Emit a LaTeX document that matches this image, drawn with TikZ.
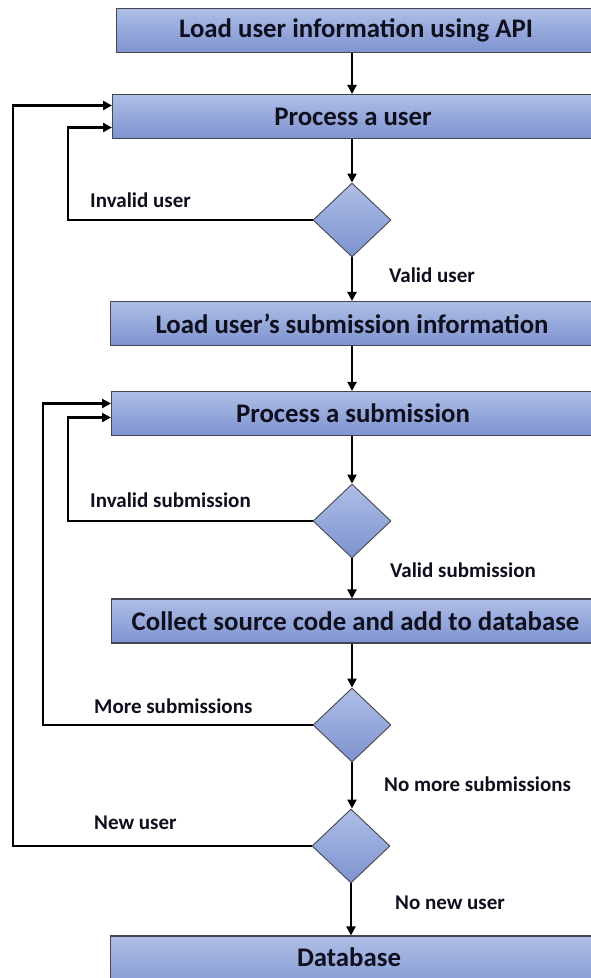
\documentclass[tikz,border=0pt]{standalone}
\usepackage{fontspec}
\setmainfont{Carlito}
\usetikzlibrary{arrows.meta,shapes.geometric,calc}
\definecolor{boxtop}{RGB}{174,190,230}
\definecolor{boxbot}{RGB}{126,147,208}
\definecolor{edge}{RGB}{70,70,80}
\definecolor{ink}{RGB}{15,15,30}
\begin{document}
\begin{tikzpicture}[x=1pt,y=-1pt,
  procbox/.style={rectangle,draw=edge,line width=1.1pt,top color=boxtop,bottom color=boxbot,
    minimum height=44pt,minimum width=560pt,inner sep=0pt,anchor=west},
  boxtext/.style={font=\fontsize{26.8}{28}\selectfont\bfseries,text=ink,inner sep=0pt},
  decide/.style={diamond,draw=edge,line width=0.9pt,top color=boxtop,bottom color=boxbot,
    minimum width=78pt,minimum height=74pt,inner sep=0pt},
  lbl/.style={font=\fontsize{21}{23}\selectfont\bfseries,text=ink,anchor=west,inner sep=0pt},
  arr/.style={line width=2.2pt,-{Triangle[length=9pt,width=9pt]}},
  ln/.style={line width=2.2pt}]
\useasboundingbox (0,0) rectangle (591,978);
\clip (0,0) rectangle (591,978);
\fill[white] (0,0) rectangle (591,978);
% boxes
\node[procbox] (b1) at (116,30.5) {};
\node[procbox] (b2) at (112,116.5) {};
\node[procbox] (b3) at (110,323.5) {};
\node[procbox] (b4) at (111,413.5) {};
\node[procbox] (b5) at (111,621) {};
\node[procbox,minimum height=60pt] (b6) at (110,966) {};
\node[boxtext] (t1) at (356,30.5) {Load user information using API};
\node[boxtext] (t2) at (353,116.5) {Process a user};
\node[boxtext] (t3) at (352,323.5) {Load user’s submission information};
\node[boxtext] (t4) at (353,413.5) {Process a submission};
\node[boxtext] (t5) at (355.5,621) {Collect source code and add to database};
\node[boxtext] (t6) at (349,957) {Database};
% diamonds
\node[decide] (d1) at (352,220) {};
\node[decide] (d2) at (352,521) {};
\node[decide] (d3) at (352,725) {};
\node[decide] (d4) at (351,846) {};
% entry points
\coordinate (b2a) at ($(b2.west)+(0,-11)$);
\coordinate (b2b) at ($(b2.west)+(0,11)$);
\coordinate (b4a) at ($(b4.west)+(0,-10)$);
\coordinate (b4b) at ($(b4.west)+(0,4)$);
\coordinate (cx1) at (13,0);
\coordinate (cx2) at (43,0);
\coordinate (cx3) at (68,0);
% main flow
\draw[arr] (d1 |- b1.south) -- (d1 |- b2.north);
\draw[arr] (d1 |- b2.south) -- (d1.north);
\draw[arr] (d1.south) -- (d1 |- b3.north);
\draw[arr] (d1 |- b3.south) -- (d1 |- b4.north);
\draw[arr] (d2 |- b4.south) -- (d2.north);
\draw[arr] (d2.south) -- (d2 |- b5.north);
\draw[arr] (d3 |- b5.south) -- (d3.north);
\draw[arr] (d3.south) -- (d3 |- d4.north);
\draw[arr] (d4.south) -- (d4 |- b6.north);
% loops
\draw[arr] (d1.west) -| (cx3 |- b2b) -- (b2b);
\draw[arr] (d4.west) -| (cx1 |- b2a) -- (b2a);
\draw[arr] (d2.west) -| (cx3 |- b4b) -- (b4b);
\draw[arr] (d3.west) -| (cx2 |- b4a) -- (b4a);
% labels
\node[lbl] (l1) at (90,200) {Invalid user};
\node[lbl] (l2) at (389,275) {Valid user};
\node[lbl] (l3) at (90,500) {Invalid submission};
\node[lbl] (l4) at (390,570) {Valid submission};
\node[lbl] (l5) at (94,706) {More submissions};
\node[lbl] (l6) at (384,784) {No more submissions};
\node[lbl] (l7) at (94,823) {New user};
\node[lbl] (l8) at (395,903) {No new user};
\end{tikzpicture}
\end{document}
